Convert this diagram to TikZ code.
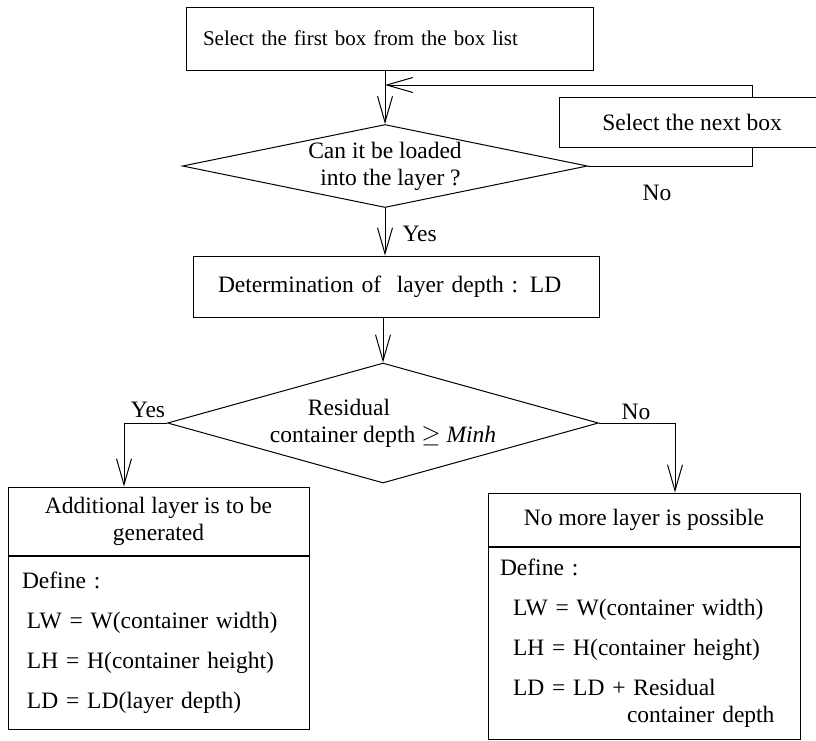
\documentclass[tikz,border=0pt]{standalone}
\usepackage{fontspec}
\setmainfont{Liberation Serif}
\usetikzlibrary{shapes.geometric, arrows.meta, positioning}
\newcommand{\flowfont}{\fontsize{23.5}{27}\selectfont}
\newcommand{\firstfont}{\fontsize{21}{25}\selectfont}

\begin{document}
\begin{tikzpicture}[x=1pt, y=-1pt, line width=1pt, font=\flowfont,
  box/.style={draw, rectangle, inner sep=0pt, align=center},
  test/.style={draw, diamond, inner sep=0pt, align=left},
  flow/.style={-{Straight Barb[length=26pt, width=15pt]}},
  lbl/.style={inner sep=0pt}]
 \useasboundingbox (0,0) rectangle (816,740);
 %loading the layer
 \node[box, minimum width=407pt, minimum height=63pt, inner xsep=17pt, text width=373pt, align=left, font=\firstfont] (first) at (389.5,38.5) {Select the first box from the box list};
 \node[test, aspect=4.9, minimum width=405pt, minimum height=83pt] (load) at (385,166) {Can it be loaded\\\hspace*{12pt}into the layer ?};
 \node[box, minimum width=266pt, minimum height=50pt] (next) at (692,122) {Select the next box};
 \coordinate (merge) at (385,85);
 \draw[flow] (first.south -| load.north) -- (load.north);
 \draw (load.east) -| ([xshift=60pt]next.south);
 \draw[flow] ([xshift=60pt]next.north) |- (merge);
 \node[lbl] (no1) at (657,193) {No};
 \node[box, minimum width=406pt, minimum height=61pt, inner xsep=25pt, text width=356pt, align=left] (depth) at (396,286.5) {Determination of\ \ layer depth : LD};
 \draw[flow] (load.south) -- (load.south |- depth.north);
 \node[lbl, anchor=west] (yes1) at (402,234) {Yes};
 %depth test
 \node[test, aspect=3.6, minimum width=431pt, minimum height=120pt] (fit) at (383,423) {\hspace*{38pt}Residual\\container depth $\geq$ \textit{Minh}};
 \draw[flow] (depth.south -| fit.north) -- (fit.north);
 \node[box, minimum width=301pt, minimum height=68pt] (addhd) at (158.5,521) {Additional layer is to be\\generated};
 \node[box, below=0pt of addhd, minimum height=173pt, inner xsep=14pt, text width=273pt, align=left] (addbd) {Define :\\[13pt]\hspace*{5pt}LW = W(container width)\\[13pt]\hspace*{5pt}LH = H(container height)\\[13pt]\hspace*{5pt}LD = LD(layer depth)};
 \draw[flow] (fit.west) -| ([xshift=-34.5pt]addhd.north);
 \node[lbl] (yes2) at (148,410) {Yes};
 \node[box, minimum width=312pt, minimum height=53pt] (morehd) at (644,519.5) {No more layer is possible};
 \node[box, below=0pt of morehd, minimum height=192pt, inner xsep=12pt, text width=288pt, align=left] (morebd) {Define :\\[13pt]\hspace*{13pt}LW = W(container width)\\[13pt]\hspace*{13pt}LH = H(container height)\\[13pt]\hspace*{13pt}LD = LD + Residual\\\hspace*{127pt}container depth};
 \draw[flow] (fit.east) -| ([xshift=31pt]morehd.north);
 \node[lbl] (no2) at (636,412) {No};
\end{tikzpicture}
\end{document}
